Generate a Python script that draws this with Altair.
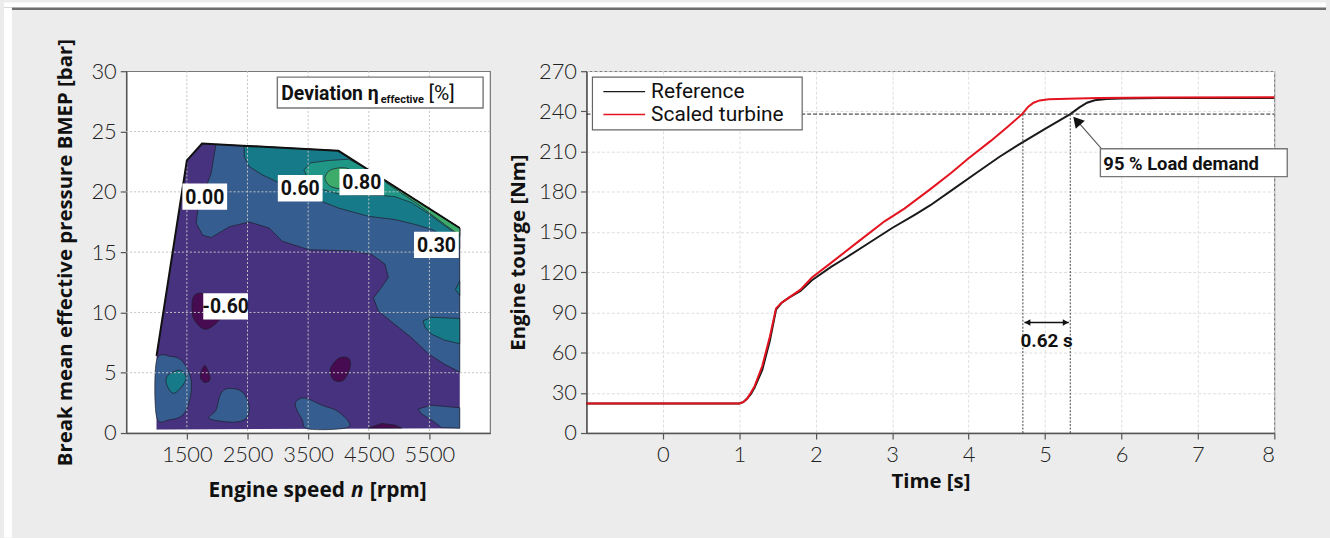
import altair as alt
import pandas as pd

# ---------------- right panel: torque build-up over time ----------------
T_REFERENCE = [-1.0, 1.0, 1.05, 1.1, 1.15, 1.2, 1.3, 1.4, 1.48, 1.55, 1.65, 1.8, 1.95, 2.2, 2.4,
               2.7, 3.0, 3.3, 3.5, 3.8, 4.1, 4.4, 4.65, 5.0, 5.33, 5.45, 5.55, 5.65, 5.8, 6.0,
               6.5, 7.0, 8.0]
TQ_REFERENCE = [22, 22, 23, 25.5, 29, 34, 47, 69, 92, 97, 101, 106, 114, 124, 131,
                142, 153, 163, 170, 182, 194, 206, 215, 227, 238, 243, 246.5, 248.3, 249.3, 249.7,
                250, 250, 250]
T_SCALED = [-1.0, 1.0, 1.05, 1.1, 1.15, 1.2, 1.3, 1.4, 1.48, 1.55, 1.65, 1.8, 1.95, 2.2, 2.56,
            2.9, 3.16, 3.5, 3.77, 4.0, 4.29, 4.5, 4.7, 4.78, 4.85, 4.93, 5.05, 5.3, 5.7, 6.5, 8.0]
TQ_SCALED = [22, 22, 23, 25.5, 30, 35, 50, 72, 93, 97, 101, 107, 116, 127, 143,
             158, 167.5, 182, 194, 205, 218, 228, 238, 243.5, 246.5, 248.2, 249, 249.5, 250, 250.3, 250.5]

SERIES = ["Reference", "Scaled turbine"]
SERIES_COLORS = ["#1a1a1a", "#e3141f"]
TIME_TICKS = [0, 1, 2, 3, 4, 5, 6, 7, 8]
TORQUE_TICKS = [0, 30, 60, 90, 120, 150, 180, 210, 240, 270]

LOAD_95 = 238
T95 = [4.71, 5.33]
DT_LABEL = "0.62 s"
LOAD_LABEL = "95 % Load demand"

# ---------------- left panel: deviation map (contour bands) ----------------
RPM_TICKS = [1500, 2500, 3500, 4500, 5500]
BMEP_TICKS = [0, 5, 10, 15, 20, 25, 30]

ENVELOPE = [(1000, 0.3), (1000, 6.4), (1500, 22.6), (1750, 24.0), (4000, 23.4), (6000, 17.0), (6000, 0.4)]
ENVELOPE_EDGE = [(1000, 6.4), (1500, 22.6), (1750, 24.0), (4000, 23.4), (6000, 17.0)]

BLUE_TOP = [(1980, 23.94), (1898, 21.5), (1816, 20.4), (1680, 18.5), (1653, 17.4), (1762, 16.4),
            (1900, 16.2), (2200, 17.1), (2528, 17.5), (2856, 17.0), (3074, 15.9), (3511, 15.2),
            (4221, 15.1), (4549, 14.8), (4767, 14.0), (4822, 12.9), (4713, 12.1), (4577, 11.2),
            (4659, 10.1), (4931, 9.0), (5205, 7.9), (5478, 6.6), (5751, 5.7), (6000, 5.05),
            (6000, 17.0), (4000, 23.4)]
BLUE_BL = [(1000, 6.0), (1243, 6.35), (1434, 5.9), (1571, 4.4), (1544, 2.7), (1434, 1.5),
           (1216, 1.1), (1000, 1.35)]
BLUE_B1 = [(1980, 1.9), (2063, 3.3), (2200, 3.7), (2418, 3.4), (2528, 2.2), (2473, 1.2),
           (2254, 0.9), (1872, 1.2)]
BLUE_B2 = [(3292, 2.2), (3320, 2.7), (3456, 2.9), (3730, 2.3), (4003, 1.75), (4167, 0.5),
           (3511, 0.33), (3402, 1.1)]
BLUE_B3 = [(5314, 2.0), (5533, 2.3), (6000, 2.1), (6000, 0.4), (5697, 0.45), (5587, 0.9), (5368, 1.6)]

TEAL_TOP = [(2446, 23.85), (2446, 22.9), (2528, 22.1), (2746, 21.4), (3000, 20.8), (3370, 20.0),
            (3675, 19.3), (4003, 18.65), (4495, 17.97), (4931, 17.7), (5259, 17.3), (5533, 16.9),
            (5751, 16.3), (6000, 15.3), (6000, 17.0), (4000, 23.4)]
TEAL_BL = [(1189, 4.8), (1380, 5.2), (1488, 4.6), (1407, 3.8), (1270, 3.3), (1161, 4.1)]
TEAL_R1 = [(5396, 9.3), (5533, 9.6), (6000, 9.5), (6000, 7.4), (5751, 7.7), (5533, 8.2), (5423, 8.8)]
TEAL_R2 = [(6000, 12.6), (5930, 11.9), (6000, 11.4)]

GREENTEAL = [(3429, 21.8), (3538, 22.4), (3839, 22.6), (4167, 22.7), (4413, 22.08), (6000, 17.0),
             (6000, 16.3), (5697, 17.4), (5478, 18.2), (5205, 19.1), (4931, 19.6), (4713, 19.7),
             (4057, 19.75), (3730, 20.2), (3511, 21.0)]
GREEN_BLOB = [(3784, 21.3), (3866, 21.8), (4057, 22.0), (4200, 21.8), (4250, 21.0), (4100, 20.3),
              (3893, 20.4), (3795, 20.85)]
GREEN_STRIP = [(4713, 21.12), (6000, 17.0), (6000, 16.4), (5750, 17.3), (5300, 19.0), (4800, 20.7)]

DARK_1 = [(1600, 11.2), (1700, 11.6), (1850, 11.3), (1950, 10.5), (2060, 9.7), (1960, 9.0),
          (1790, 8.6), (1630, 9.3), (1587, 10.1)]
DARK_2 = [(1790, 5.6), (1860, 5.0), (1880, 4.4), (1790, 4.2), (1720, 4.7)]
DARK_3 = [(3866, 5.3), (4003, 6.2), (4167, 6.2), (4194, 5.5), (4085, 4.4), (3921, 4.4)]
DARK_4 = [(4495, 0.42), (4713, 0.8), (4931, 0.66), (5041, 0.42)]

# band name -> (fill colour, [(polygon, smooth?)])
BANDS = [
    ("-0.6..0", "#46327e", [(ENVELOPE, False)]),
    ("0..0.3", "#355d8f", [(BLUE_TOP, False), (BLUE_BL, True), (BLUE_B1, True), (BLUE_B2, True), (BLUE_B3, False)]),
    ("0.3..0.6", "#177a88", [(TEAL_TOP, False), (TEAL_BL, True), (TEAL_R1, False), (TEAL_R2, False)]),
    ("0.6..0.8", "#1f9686", [(GREENTEAL, False)]),
    (">0.8", "#3dab6a", [(GREEN_BLOB, True), (GREEN_STRIP, False)]),
    ("<-0.6", "#460b51", [(DARK_1, True), (DARK_2, True), (DARK_3, True), (DARK_4, False)]),
]

LABEL_TEXT = ["0.00", "0.60", "0.80", "0.30", "-0.60"]
LABEL_RPM = [1795, 3369, 4385, 5615, 2139]
LABEL_BMEP = [19.6, 20.3, 20.8, 15.6, 10.5]

# ---------------- fonts / styles ----------------
TICK_FONT = "Lato"
TITLE_FONT = "Open Sans"
BOLD_NARROW = "Roboto"
LEG_FONT = "Roboto"

LW, LH = 366, 364      # left plot area
RW, RH = 692, 364      # right plot area

dummy = pd.DataFrame({"k": [0]})


def ptext(text, x, y, size, font, weight="normal", style="normal", align="left", baseline="alphabetic"):
    return alt.Chart(dummy).mark_text(
        text=text, font=font, fontSize=size, fontWeight=weight, fontStyle=style,
        align=align, baseline=baseline, color="#111111"
    ).encode(x=alt.value(x), y=alt.value(y))


# ================= LEFT PANEL =================
xs_l = alt.Scale(domain=[500, 6500], nice=False, zero=False)
ys_l = alt.Scale(domain=[0, 30], nice=False)

left_layers = []
first = True
for bi, (band, col, polys) in enumerate(BANDS):
    for pi, (pts, smooth) in enumerate(polys):
        seq = list(pts) if smooth else list(pts) + [pts[0]]
        df = pd.DataFrame({"rpm": [p[0] for p in seq], "bmep": [p[1] for p in seq],
                           "idx": list(range(len(seq)))})
        if first:
            xenc = alt.X("rpm:Q", scale=xs_l, title=None,
                         axis=alt.Axis(values=RPM_TICKS, format="d", grid=False, labelPadding=6))
            yenc = alt.Y("bmep:Q", scale=ys_l, title="Break mean effective pressure BMEP [bar]",
                         axis=alt.Axis(values=BMEP_TICKS, format="d", grid=False, titleX=-61, titleY=LH / 2,
                                       titleAngle=270, titleBaseline="middle", titleAlign="center"))
        else:
            xenc = alt.X("rpm:Q")
            yenc = alt.Y("bmep:Q")
        stroke_kw = dict(stroke=col, strokeWidth=0.1) if first else dict(stroke="#1e1e2a", strokeWidth=0.7)
        layer = alt.Chart(df).mark_line(
            filled=True, fill=col, interpolate="cardinal-closed" if smooth else "linear", **stroke_kw
        ).encode(x=xenc, y=yenc, order=alt.Order("idx:Q"))
        left_layers.append(layer)
        first = False

# dotted grid drawn over the map
grid_x = alt.Chart(pd.DataFrame({"rpm": RPM_TICKS})).mark_rule(
    color="#c4c4c4", strokeDash=[2, 2], strokeWidth=1).encode(x="rpm:Q", y=alt.value(0), y2=alt.value(LH))
grid_y = alt.Chart(pd.DataFrame({"bmep": BMEP_TICKS[1:-1]})).mark_rule(
    color="#c4c4c4", strokeDash=[2, 2], strokeWidth=1).encode(y="bmep:Q", x=alt.value(0), x2=alt.value(LW))

edge_df = pd.DataFrame({"rpm": [p[0] for p in ENVELOPE_EDGE], "bmep": [p[1] for p in ENVELOPE_EDGE],
                        "idx": list(range(len(ENVELOPE_EDGE)))})
edge = alt.Chart(edge_df).mark_line(color="#111111", strokeWidth=2).encode(
    x="rpm:Q", y="bmep:Q", order="idx:Q")

lab_df = pd.DataFrame({"rpm": LABEL_RPM, "bmep": LABEL_BMEP, "txt": LABEL_TEXT})
lab_box = alt.Chart(lab_df).mark_point(
    shape="M-1,-0.59L1,-0.59L1,0.59L-1,0.59Z", size=45 * 45, filled=True, fill="white", opacity=1,
    strokeWidth=0).encode(x="rpm:Q", y="bmep:Q")
lab_txt = alt.Chart(lab_df).mark_text(font=BOLD_NARROW, fontSize=19.5, fontWeight="bold", color="#111111",
                                      baseline="middle", dy=1).encode(x="rpm:Q", y="bmep:Q", text="txt:N")

# title box "Deviation eta_effective [%]"
dev_box = alt.Chart(dummy).mark_rect(fill="white", stroke="#777777", strokeWidth=1.4).encode(
    x=alt.value(152), x2=alt.value(359), y=alt.value(6), y2=alt.value(37))
dev_t1 = ptext("Deviation η", 254, 29, 19.5, BOLD_NARROW, weight="bold", align="right")
dev_t2 = ptext("effective", 256, 32, 11, BOLD_NARROW, weight="bold")
dev_t3 = ptext("[%]", 304, 29, 21, BOLD_NARROW)

# x-axis title with italic n
xt1 = ptext("Engine speed", 220, 428, 21, TITLE_FONT, weight="bold", align="right")
xt2 = ptext("n", 226, 428, 21, TITLE_FONT, weight="bold", style="italic")
xt3 = ptext("[rpm]", 245, 428, 21, TITLE_FONT, weight="bold")

# page frame: white top strip, dark rule, white left strip
frame_w = alt.Chart(dummy).mark_rule(color="white", strokeWidth=5).encode(
    x=alt.value(-123), x2=alt.value(1207), y=alt.value(-66.5))
frame_d = alt.Chart(dummy).mark_rule(color="#6e6e6e", strokeWidth=2.4).encode(
    x=alt.value(-123), x2=alt.value(1207), y=alt.value(-62.8))
frame_l = alt.Chart(dummy).mark_rule(color="white", strokeWidth=8).encode(
    x=alt.value(-119), y=alt.value(-64), y2=alt.value(469))

left = alt.layer(*left_layers, grid_x, grid_y, edge, lab_box, lab_txt, dev_box, dev_t1, dev_t2, dev_t3,
                 xt1, xt2, xt3, frame_w, frame_d, frame_l).properties(width=LW, height=LH)

# ================= RIGHT PANEL =================
xs_r = alt.Scale(domain=[-1, 8], nice=False, zero=False)
ys_r = alt.Scale(domain=[0, 270], nice=False)

ref_df = pd.DataFrame({"t": T_REFERENCE, "tq": TQ_REFERENCE})
sc_df = pd.DataFrame({"t": T_SCALED, "tq": TQ_SCALED})

axis_grid = dict(grid=True, gridColor="#dedede", gridDash=[3, 2], gridWidth=1)
ref_line = alt.Chart(ref_df).mark_line(color=SERIES_COLORS[0], strokeWidth=2).encode(
    x=alt.X("t:Q", scale=xs_r, title="Time [s]",
            axis=alt.Axis(values=TIME_TICKS, format="d", labelPadding=6, titleY=55,
                          titleBaseline="alphabetic", **axis_grid)),
    y=alt.Y("tq:Q", scale=ys_r, title="Engine tourge [Nm]",
            axis=alt.Axis(values=TORQUE_TICKS, format="d", titleX=-68, titleY=RH / 2, titleAngle=270,
                          titleBaseline="middle", titleAlign="center", **axis_grid)))
sc_line = alt.Chart(sc_df).mark_line(color=SERIES_COLORS[1], strokeWidth=2).encode(x="t:Q", y="tq:Q")

hline = alt.Chart(pd.DataFrame({"t": [-1], "t2": [8], "tq": [LOAD_95]})).mark_rule(
    color="#222222", strokeDash=[4, 2], strokeWidth=1).encode(x="t:Q", x2="t2:Q", y="tq:Q")
vlines = alt.Chart(pd.DataFrame({"t": T95, "tq": [0, 0], "tq2": [LOAD_95, LOAD_95]})).mark_rule(
    color="#444444", strokeDash=[2, 1.5], strokeWidth=1).encode(x="t:Q", y="tq:Q", y2="tq2:Q")

dbl = alt.Chart(pd.DataFrame({"t": [T95[0] + 0.02], "t2": [T95[1] - 0.02], "tq": [82.5]})).mark_rule(
    color="#111111", strokeWidth=1.6).encode(x="t:Q", x2="t2:Q", y="tq:Q")
heads = alt.Chart(pd.DataFrame({"t": [T95[0] + 0.06, T95[1] - 0.06], "tq": [82.5, 82.5],
                                "shp": ["triangle-left", "triangle-right"]})).mark_point(
    filled=True, color="#111111", size=45, opacity=1).encode(
    x="t:Q", y="tq:Q", shape=alt.Shape("shp:N", scale=None))
dt_txt = alt.Chart(pd.DataFrame({"t": [(T95[0] + T95[1]) / 2], "tq": [69]})).mark_text(
    text=DT_LABEL, font=BOLD_NARROW, fontSize=19, fontWeight="bold", color="#111111", baseline="middle").encode(
    x="t:Q", y="tq:Q")

arrow_line = alt.Chart(pd.DataFrame({"t": [5.42], "t2": [5.74], "tq": [233], "tq2": [212]})).mark_rule(
    color="#555555", strokeWidth=1.1).encode(x="t:Q", x2="t2:Q", y="tq:Q", y2="tq2:Q")
arrow_head = alt.Chart(pd.DataFrame({"t": [5.415], "tq": [233]})).mark_point(
    shape="triangle-up", angle=318.5, size=150, filled=True, color="#111111", opacity=1).encode(
    x="t:Q", y="tq:Q")
load_box = alt.Chart(dummy).mark_rect(fill="white", stroke="#777777", strokeWidth=1.4).encode(
    x=alt.value(517), x2=alt.value(705), y=alt.value(78), y2=alt.value(106))
load_txt = ptext(LOAD_LABEL, 520, 93, 18.5, BOLD_NARROW, weight="bold", baseline="middle")

leg_box = alt.Chart(dummy).mark_rect(fill="white", stroke="#666666", strokeWidth=1.2).encode(
    x=alt.value(6), x2=alt.value(217), y=alt.value(6), y2=alt.value(59))
leg_l1 = alt.Chart(dummy).mark_rule(color=SERIES_COLORS[0], strokeWidth=1.4).encode(
    x=alt.value(17), x2=alt.value(59), y=alt.value(20.5))
leg_l2 = alt.Chart(dummy).mark_rule(color=SERIES_COLORS[1], strokeWidth=1.4).encode(
    x=alt.value(17), x2=alt.value(59), y=alt.value(43.5))
leg_t1 = ptext(SERIES[0], 65, 21, 21, LEG_FONT, baseline="middle")
leg_t2 = ptext(SERIES[1], 65, 44, 21, LEG_FONT, baseline="middle")

right = alt.layer(ref_line, hline, vlines, sc_line, dbl, heads, dt_txt, arrow_line, arrow_head,
                  load_box, load_txt, leg_box, leg_l1, leg_l2, leg_t1, leg_t2).properties(width=RW, height=RH)

chart = alt.hconcat(left, right, spacing=97, bounds="flush").properties(
    padding=0, background="#ececec"
).configure_view(
    stroke="#777777", strokeWidth=1.2, fill="white"
).configure_axis(
    labelFont=TICK_FONT, labelFontSize=22, labelFontWeight=300, labelColor="#222222",
    titleFont=TITLE_FONT, titleFontSize=20.5, titleFontWeight="bold", titleColor="#111111",
    domainColor="#555555", domainWidth=1.5, tickColor="#555555", tickSize=6, tickWidth=1.2,
    labelPadding=4
)

chart.save("out.html", embed_options={"renderer": "svg", "actions": False})
